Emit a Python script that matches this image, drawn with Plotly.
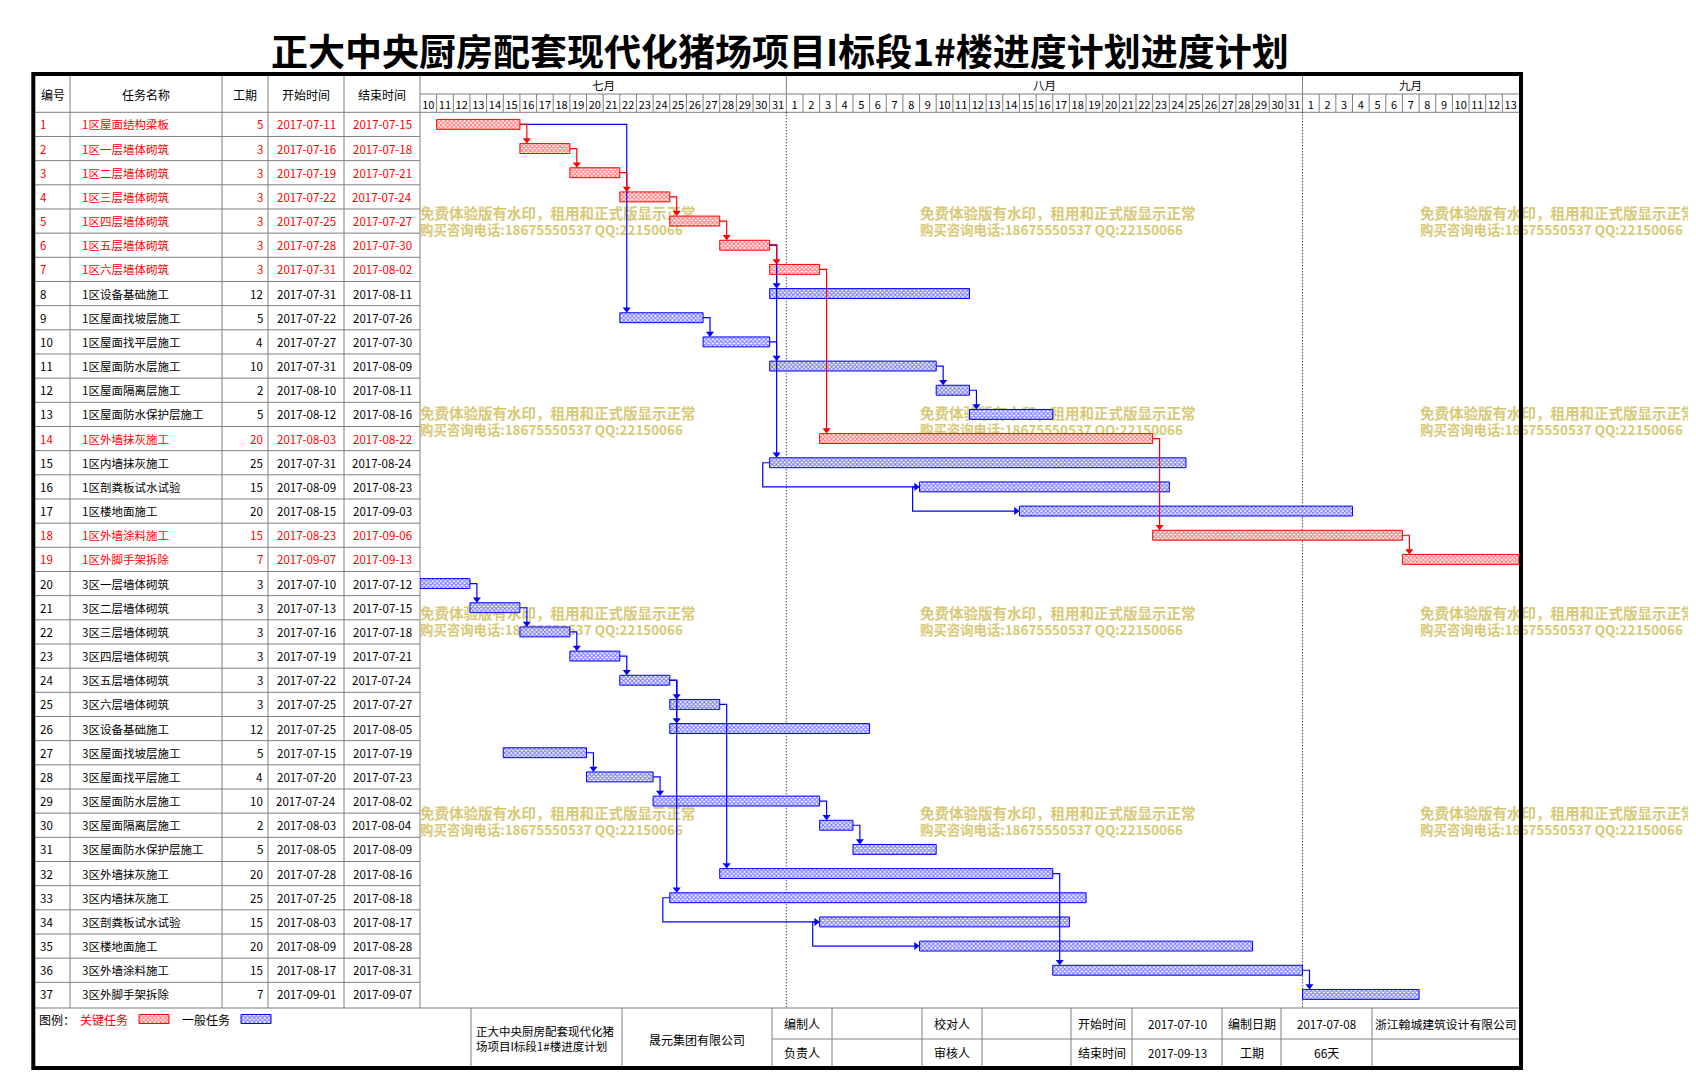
import plotly.graph_objects as go
import pandas as pd

W, H = 1696, 1084
FONT = "Noto Sans CJK SC, Noto Sans, sans-serif"
RED = "rgb(255,0,0)"
BLUE = "rgb(0,0,255)"
GRID = "#7f7f7f"
WM_COLOR = "rgb(216,201,118)"

# ---------------- data ----------------
title_text = "正大中央厨房配套现代化猪场项目I标段1#楼进度计划进度计划"
header_labels = ["编号", "任务名称", "工期", "开始时间", "结束时间"]
task_ids = list(range(1, 38))
task_names = [
    "1区屋面结构梁板", "1区一层墙体砌筑", "1区二层墙体砌筑", "1区三层墙体砌筑",
    "1区四层墙体砌筑", "1区五层墙体砌筑", "1区六层墙体砌筑", "1区设备基础施工",
    "1区屋面找坡层施工", "1区屋面找平层施工", "1区屋面防水层施工", "1区屋面隔离层施工",
    "1区屋面防水保护层施工", "1区外墙抹灰施工", "1区内墙抹灰施工", "1区剖粪板试水试验",
    "1区楼地面施工", "1区外墙涂料施工", "1区外脚手架拆除",
    "3区一层墙体砌筑", "3区二层墙体砌筑", "3区三层墙体砌筑", "3区四层墙体砌筑",
    "3区五层墙体砌筑", "3区六层墙体砌筑", "3区设备基础施工", "3区屋面找坡层施工",
    "3区屋面找平层施工", "3区屋面防水层施工", "3区屋面隔离层施工", "3区屋面防水保护层施工",
    "3区外墙抹灰施工", "3区内墙抹灰施工", "3区剖粪板试水试验", "3区楼地面施工",
    "3区外墙涂料施工", "3区外脚手架拆除",
]
durations = [5, 3, 3, 3, 3, 3, 3, 12, 5, 4, 10, 2, 5, 20, 25, 15, 20, 15, 7,
             3, 3, 3, 3, 3, 3, 12, 5, 4, 10, 2, 5, 20, 25, 15, 20, 15, 7]
start_dates = [
    "2017-07-11", "2017-07-16", "2017-07-19", "2017-07-22", "2017-07-25", "2017-07-28",
    "2017-07-31", "2017-07-31", "2017-07-22", "2017-07-27", "2017-07-31", "2017-08-10",
    "2017-08-12", "2017-08-03", "2017-07-31", "2017-08-09", "2017-08-15", "2017-08-23",
    "2017-09-07",
    "2017-07-10", "2017-07-13", "2017-07-16", "2017-07-19", "2017-07-22", "2017-07-25",
    "2017-07-25", "2017-07-15", "2017-07-20", "2017-07-24", "2017-08-03", "2017-08-05",
    "2017-07-28", "2017-07-25", "2017-08-03", "2017-08-09", "2017-08-17", "2017-09-01",
]
end_dates = [
    "2017-07-15", "2017-07-18", "2017-07-21", "2017-07-24", "2017-07-27", "2017-07-30",
    "2017-08-02", "2017-08-11", "2017-07-26", "2017-07-30", "2017-08-09", "2017-08-11",
    "2017-08-16", "2017-08-22", "2017-08-24", "2017-08-23", "2017-09-03", "2017-09-06",
    "2017-09-13",
    "2017-07-12", "2017-07-15", "2017-07-18", "2017-07-21", "2017-07-24", "2017-07-27",
    "2017-08-05", "2017-07-19", "2017-07-23", "2017-08-02", "2017-08-04", "2017-08-09",
    "2017-08-16", "2017-08-18", "2017-08-17", "2017-08-28", "2017-08-31", "2017-09-07",
]
critical_ids = [1, 2, 3, 4, 5, 6, 7, 14, 18, 19]
# finish-to-start links (pred, succ) and start-to-start links
fs_links = [(1, 9), (9, 10), (6, 8), (6, 15), (10, 11), (11, 12), (12, 13),
            (1, 2), (2, 3), (3, 4), (4, 5), (5, 6), (6, 7), (7, 14), (14, 18), (18, 19),
            (20, 21), (21, 22), (22, 23), (23, 24), (24, 25), (24, 26), (24, 33),
            (25, 32), (27, 28), (28, 29), (29, 30), (30, 31), (32, 36), (36, 37)]
ss_links = [(15, 16), (16, 17), (33, 34), (34, 35)]

months = [("七月", "2017-07-10", "2017-08-01"), ("八月", "2017-08-01", "2017-09-01"),
          ("九月", "2017-09-01", "2017-09-14")]
chart_start, chart_end = "2017-07-10", "2017-09-14"
project_start, project_end = "2017-07-10", "2017-09-13"
compile_date = "2017-07-08"
total_days_label = "66天"

watermark_lines = ["免费体验版有水印，租用和正式版显示正常", "购买咨询电话:18675550537 QQ:22150066"]

# ---------------- layout helpers ----------------
def px(x):
    return x / W

def py(y):
    return 1 - y / H

TBL_L, TBL_R = 27, 412
CH_L, CH_R = 412, 1511
HDR_TOP, MONTH_BOT, HDR_BOT = 68, 86, 104.3
ROWS_BOT, FOOT_MID, FOOT_BOT = 998.5, 1031, 1058
col_lines = [62, 214, 260, 336]

starts = [pd.Timestamp(s) for s in start_dates]
ends_excl = [pd.Timestamp(e) + pd.Timedelta(days=1) for e in end_dates]
is_crit = [tid in critical_ids for tid in task_ids]

fig = go.Figure()

# ---------------- watermark (base layer, under bars) ----------------
wm_x = [412, 912, 1412]
wm_y = [207, 407, 607, 807]
for li, (dy, fsize) in enumerate([(0, 14.5), (17, 13.4)]):
    xs, ys, ts = [], [], []
    for yy in wm_y:
        for xx in wm_x:
            xs.append(xx)
            ys.append(yy + dy)
            ts.append(watermark_lines[li])
    fig.add_trace(go.Scatter(
        x=xs, y=ys, text=ts, mode="text", textposition="middle right",
        textfont=dict(family=FONT, size=fsize, color=WM_COLOR, weight="bold"),
        xaxis="x", yaxis="y", hoverinfo="skip", showlegend=False, cliponaxis=False))

# legend swatches in footer
for (x0, color) in [(131, RED), (233, BLUE)]:
    fig.add_trace(go.Scatter(
        x=[x0, x0 + 30, x0 + 30, x0, x0], y=[1006.5, 1006.5, 1015.5, 1015.5, 1006.5],
        mode="lines", fill="toself", line=dict(color=color, width=1),
        fillcolor="white",
        fillpattern=dict(shape="x", size=3, solidity=0.6, fgcolor=color, bgcolor="white"),
        xaxis="x", yaxis="y", hoverinfo="skip", showlegend=False))

# ---------------- gantt bars ----------------
for crit, color in [(True, RED), (False, BLUE)]:
    idx = [i for i in range(len(task_ids)) if is_crit[i] == crit]
    fig.add_trace(go.Bar(
        orientation="h",
        y=[task_ids[i] for i in idx],
        base=[start_dates[i] for i in idx],
        x=[(ends_excl[i] - starts[i]).total_seconds() * 1000 for i in idx],
        width=0.41,
        marker=dict(color="white", line=dict(color=color, width=1),
                    pattern=dict(shape="x", size=3, solidity=0.6, fgcolor=color, bgcolor="white")),
        xaxis="x2", yaxis="y2", hoverinfo="skip", showlegend=False))

# ---------------- connectors ----------------
OFF = pd.Timedelta(hours=10)
HALF_BAR = 0.205
ARROW_V = 3.5 / ((ROWS_BOT - HDR_BOT) / 37)
ARROW_H = pd.Timedelta(hours=5)

for color in [BLUE, RED]:
    lx, ly = [], []
    ax_d, ay_d, ax_r, ay_r = [], [], [], []
    for p, s in fs_links:
        c = RED if (is_crit[p - 1] and is_crit[s - 1]) else BLUE
        if c != color:
            continue
        xv = starts[s - 1] + OFF
        yt = s - HALF_BAR - ARROW_V
        lx += [ends_excl[p - 1], xv, xv, None]
        ly += [p, p, yt, None]
        ax_d.append(xv)
        ay_d.append(yt)
    for p, s in ss_links:
        c = RED if (is_crit[p - 1] and is_crit[s - 1]) else BLUE
        if c != color:
            continue
        xl = starts[p - 1] - OFF
        xa = starts[s - 1] - ARROW_H
        lx += [starts[p - 1], xl, xl, xa, None]
        ly += [p, p, s, s, None]
        ax_r.append(xa)
        ay_r.append(s)
    fig.add_trace(go.Scatter(x=lx, y=ly, mode="lines", line=dict(color=color, width=1.2),
                             xaxis="x2", yaxis="y2", hoverinfo="skip", showlegend=False,
                             connectgaps=False))
    if ax_d:
        fig.add_trace(go.Scatter(x=ax_d, y=ay_d, mode="markers",
                                 marker=dict(symbol="triangle-down", size=7, color=color),
                                 xaxis="x2", yaxis="y2", hoverinfo="skip", showlegend=False))
    if ax_r:
        fig.add_trace(go.Scatter(x=ax_r, y=ay_r, mode="markers",
                                 marker=dict(symbol="triangle-right", size=7, color=color),
                                 xaxis="x2", yaxis="y2", hoverinfo="skip", showlegend=False))

# ---------------- shapes: table grid, header grid ----------------
shapes = []

def pline(x0, y0, x1, y1, color=GRID, width=1, dash=None, layer="below"):
    d = dict(type="line", xref="paper", yref="paper", x0=px(x0), x1=px(x1), y0=py(y0), y1=py(y1),
             line=dict(color=color, width=width), layer=layer)
    if dash:
        d["line"]["dash"] = dash
    return d

# table column lines
for cx in col_lines + [TBL_R]:
    shapes.append(pline(cx, HDR_TOP, cx, 1000))
# header bottom across full width
shapes.append(pline(TBL_L, HDR_BOT, CH_R, HDR_BOT))
# month / day separator
shapes.append(pline(CH_L, MONTH_BOT, CH_R, MONTH_BOT))
# row lines (in row coordinates)
for k in range(1, len(task_ids)):
    shapes.append(dict(type="line", xref="paper", yref="y2", x0=px(TBL_L), x1=px(TBL_R),
                       y0=k + 0.5, y1=k + 0.5, line=dict(color=GRID, width=1), layer="below"))
# day lines in header
all_days = pd.date_range(chart_start, project_end, freq="D")
month_starts = [pd.Timestamp(m[1]) for m in months[1:]]
for d in all_days[1:]:
    top = HDR_TOP if d in month_starts else MONTH_BOT
    shapes.append(dict(type="line", xref="x2", yref="paper", x0=d, x1=d, y0=py(top), y1=py(HDR_BOT),
                       line=dict(color=GRID, width=1), layer="below"))
# dotted month lines through chart
for d in month_starts:
    shapes.append(dict(type="line", xref="x2", yref="paper", x0=d, x1=d, y0=py(HDR_BOT), y1=py(1000),
                       line=dict(color="black", width=1, dash="1px,2px"), layer="below"))
# footer
shapes.append(pline(TBL_L, 1000, CH_R, 1000))
for fx in [463, 614, 764, 824, 914, 974, 1063, 1124, 1214, 1273, 1364]:
    shapes.append(pline(fx, 1000, fx, FOOT_BOT))
shapes.append(pline(764, FOOT_MID, CH_R, FOOT_MID))
# outer frame
shapes.append(dict(type="rect", xref="paper", yref="paper", x0=px(25.3), x1=px(1513), y0=py(66),
                   y1=py(1060), line=dict(color="black", width=4), fillcolor="rgba(0,0,0,0)",
                   layer="above"))

# ---------------- annotations: text ----------------
ann = []

def ptext(x, y, text, size=12, color="black", xanchor="center", align="center", weight="normal"):
    ann.append(dict(xref="paper", yref="paper", x=px(x), y=py(y), text=text, showarrow=False,
                    xanchor=xanchor, yanchor="middle", align=align,
                    font=dict(family=FONT, size=size, color=color, weight=weight)))

ptext(772, 42, title_text, size=37, weight="bold")

for lbl, cx in zip(header_labels, [44.6, 138, 237, 298, 374]):
    ptext(cx, 86, lbl, size=12)

for i, tid in enumerate(task_ids):
    col = RED if is_crit[i] else "black"
    vals = [(30, str(tid), "left"), (72, task_names[i], "left"), (257, str(durations[i]), "right"),
            (298, start_dates[i], "center"), (374, end_dates[i], "center")]
    for x, txt, anc in vals:
        ann.append(dict(xref="paper", yref="y2", x=px(x), y=tid, text=txt, showarrow=False,
                        xanchor=anc, yanchor="middle",
                        font=dict(family=FONT, size=11.5, color=col)))

# month labels
for name, m0, m1 in months:
    mid = pd.Timestamp(m0) + (pd.Timestamp(m1) - pd.Timestamp(m0)) / 2
    ann.append(dict(xref="x2", yref="paper", x=mid, y=py(77), text=name, showarrow=False,
                    xanchor="center", yanchor="middle", font=dict(family=FONT, size=11.5, color="black")))

# footer texts
ptext(29, 1011, "图例：", xanchor="left")
ptext(70, 1011, "关键任务", color=RED, xanchor="left")
ptext(172, 1011, "一般任务", xanchor="left")
ptext(466, 1030, "正大中央厨房配套现代化猪<br>场项目I标段1#楼进度计划", size=11.5, xanchor="left", align="left")
ptext(689, 1031, "晟元集团有限公司")
top_y, bot_y = 1015.5, 1044.5
ptext(794, top_y, "编制人"); ptext(794, bot_y, "负责人")
ptext(944, top_y, "校对人"); ptext(944, bot_y, "审核人")
ptext(1093.5, top_y, "开始时间"); ptext(1093.5, bot_y, "结束时间")
ptext(1169, top_y, project_start, size=11.5); ptext(1169, bot_y, project_end, size=11.5)
ptext(1243.5, top_y, "编制日期"); ptext(1243.5, bot_y, "工期")
ptext(1318.5, top_y, compile_date, size=11.5); ptext(1318.5, bot_y, total_days_label)
ptext(1437.5, top_y, "浙江翰城建筑设计有限公司", size=11.8)

# ---------------- axes ----------------
tick_vals = [d + pd.Timedelta(hours=12) for d in all_days]
tick_text = [str(d.day) for d in all_days]

fig.update_layout(
    width=W, height=H, margin=dict(l=0, r=0, t=0, b=0),
    paper_bgcolor="white", plot_bgcolor="rgba(0,0,0,0)",
    showlegend=False, barmode="overlay",
    font=dict(family=FONT),
    xaxis=dict(domain=[0, 1], range=[0, W], visible=False, fixedrange=True),
    yaxis=dict(domain=[0, 1], range=[H, 0], visible=False, fixedrange=True),
    xaxis2=dict(type="date", domain=[px(CH_L), px(CH_R)], range=[chart_start, chart_end],
                anchor="y2", side="top", showgrid=False, zeroline=False, showline=False,
                tickmode="array", tickvals=tick_vals, ticktext=tick_text, ticks="",
                tickangle=0, tickfont=dict(family=FONT, size=11, color="black"), fixedrange=True),
    yaxis2=dict(domain=[py(ROWS_BOT), py(HDR_BOT)], range=[len(task_ids) + 0.5, 0.5],
                anchor="x2", visible=False, fixedrange=True),
    shapes=shapes, annotations=ann,
)

fig.write_html("out.html")
